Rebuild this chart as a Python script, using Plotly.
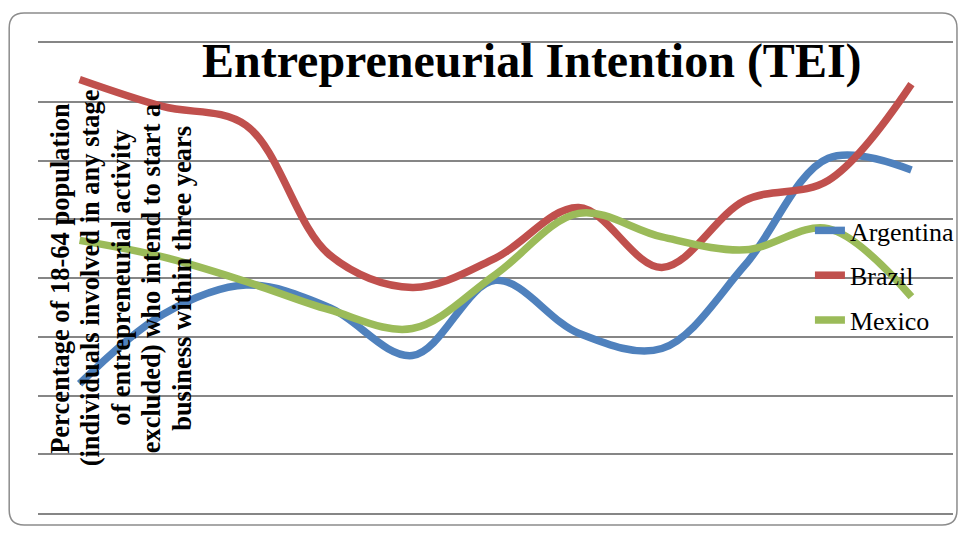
import plotly.graph_objects as go

# 11 periods, no axis labels are shown in the original chart
periods = list(range(1, 12))

argentina = [11.0, 16.9, 19.4, 17.5, 13.4, 19.8, 15.3, 14.0, 21.1, 30.2, 29.2]
brazil = [36.9, 34.6, 33.0, 22.0, 19.2, 21.7, 26.0, 20.9, 26.6, 28.3, 36.5]
mexico = [23.2, 21.8, 19.7, 17.3, 15.7, 20.3, 25.5, 23.5, 22.4, 24.2, 18.4]

series = [
    ('Argentina', argentina, '#4F81BD'),
    ('Brazil', brazil, '#C0504D'),
    ('Mexico', mexico, '#9BBB59'),
]

ytitle_lines = [
    'Percentage of 18-64 population',
    '(individuals involved in any stage',
    'of entrepreneurial activity',
    'excluded) who intend to start a',
    'business within three years',
]

# page body adds an 8px margin, keep the figure inside the window
OFF = 8
W, H = 972 - 2 * OFF, 534 - 2 * OFF
PL, PR, PT, PB = 38, 959, 43, 513      # plot box in window pixels
ML, MR, MT, MB = PL - OFF, W - (PR - OFF), PT - OFF, H - (PB - OFF)
PW, PH = PR - PL, PB - PT


def px(x):
    return (x - PL) / PW


def py(y):
    return (PB - y) / PH


serif = 'Liberation Serif, Times New Roman, serif'
grid = '#868686'

fig = go.Figure()
for name, vals, col in series:
    fig.add_trace(go.Scatter(
        x=periods, y=vals, name=name, legendgroup=name,
        mode='lines',
        line=dict(color=col, width=7.5, shape='spline', smoothing=1),
    ))

# rounded chart border
x0, x1, y0, y1, r = 9, 963, 13, 525, 15
path = (f'M {px(x0 + r)},{py(y0)} L {px(x1 - r)},{py(y0)} '
        f'Q {px(x1)},{py(y0)} {px(x1)},{py(y0 + r)} '
        f'L {px(x1)},{py(y1 - r)} Q {px(x1)},{py(y1)} {px(x1 - r)},{py(y1)} '
        f'L {px(x0 + r)},{py(y1)} Q {px(x0)},{py(y1)} {px(x0)},{py(y1 - r)} '
        f'L {px(x0)},{py(y0 + r)} Q {px(x0)},{py(y0)} {px(x0 + r)},{py(y0)} Z')
fig.add_shape(type='path', path=path, xref='paper', yref='paper',
              line=dict(color='#8C8C8C', width=1.5), layer='below')

# rotated multi-line axis title, one annotation per line
for i, line in enumerate(ytitle_lines):
    fig.add_annotation(text='<b>' + line + '</b>', textangle=-90,
                       xref='paper', yref='paper', x=px(60 + 30.7 * i), y=py(278),
                       xanchor='center', yanchor='middle', showarrow=False,
                       font=dict(family=serif, size=26.5, color='black'))

fig.update_layout(
    width=W, height=H,
    margin=dict(l=ML, r=MR, t=MT, b=MB, pad=0),
    paper_bgcolor='white', plot_bgcolor='rgba(0,0,0,0)',
    font=dict(family=serif, color='black'),
    title=dict(text='<b>Entrepreneurial Intention (TEI)</b>',
               x=px(535), xanchor='center', xref='paper',
               y=1 - (60 - OFF) / H, yanchor='middle', yref='container',
               font=dict(family=serif, size=48, color='black')),
    legend=dict(x=px(815), y=py(207), xanchor='left', yanchor='top',
                bgcolor='rgba(0,0,0,0)', tracegroupgap=8,
                font=dict(family=serif, size=26)),
    # top and bottom gridlines come from the mirrored x axis line
    xaxis=dict(range=[0.5, 11.5], showgrid=False, showticklabels=False,
               zeroline=False, showline=True, mirror=True, linecolor=grid,
               linewidth=1.5, ticks=''),
    yaxis=dict(range=[0, 40], dtick=5, showgrid=True, gridcolor=grid,
               gridwidth=1.5, showticklabels=False, zeroline=False,
               showline=False, ticks=''),
)

fig.write_html('out.html')
